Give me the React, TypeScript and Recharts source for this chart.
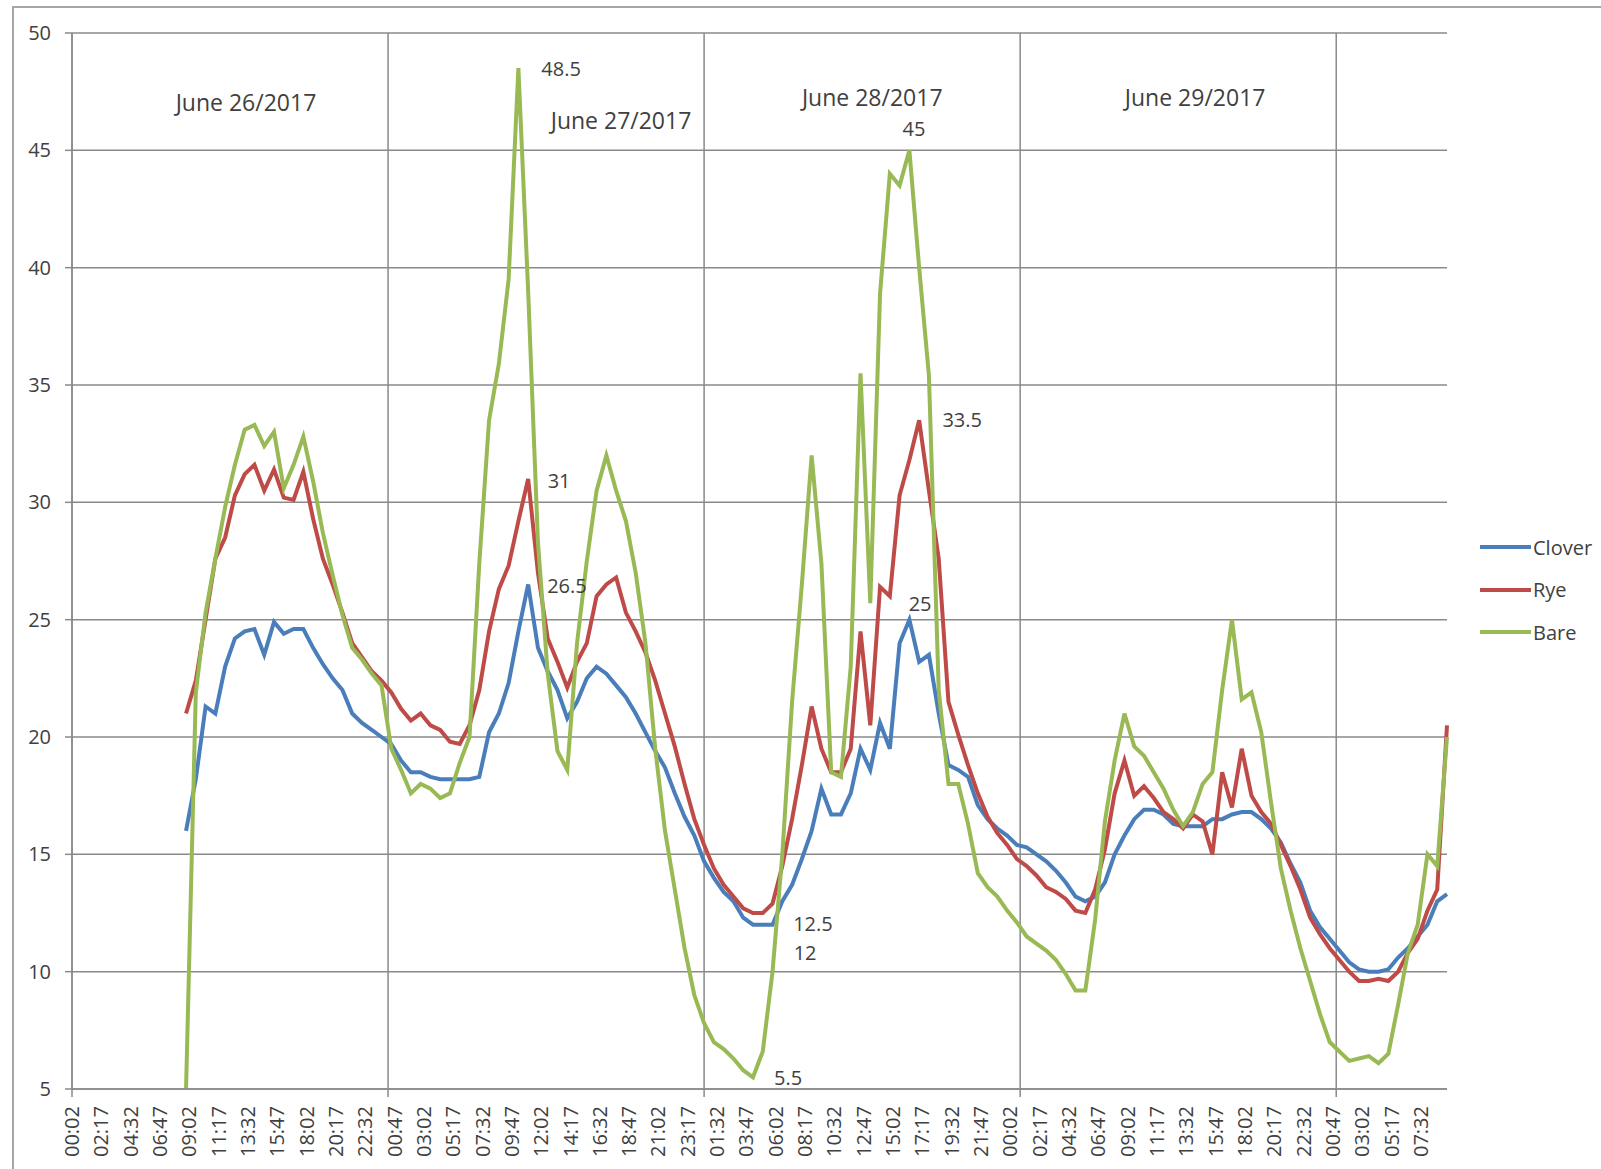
import React from 'react';
import { LineChart, Line, XAxis, YAxis, CartesianGrid, ReferenceLine, ReferenceDot } from 'recharts';

// x axis runs in 15-minute slots counted from 00:02 on June 26; a label every 9 slots
const timeLabels = [
  '00:02', '02:17', '04:32', '06:47', '09:02', '11:17', '13:32', '15:47', '18:02', '20:17', '22:32',
  '00:47', '03:02', '05:17', '07:32', '09:47', '12:02', '14:17', '16:32', '18:47', '21:02', '23:17',
  '01:32', '03:47', '06:02', '08:17', '10:32', '12:47', '15:02', '17:17', '19:32', '21:47',
  '00:02', '02:17', '04:32', '06:47', '09:02', '11:17', '13:32', '15:47', '18:02', '20:17', '22:32',
  '00:47', '03:02', '05:17', '07:32',
];
const labelStep = 9;
const dayLines = [0, 97, 194, 291, 388];
const yTicks = [5, 10, 15, 20, 25, 30, 35, 40, 45, 50];

// readings every 3 slots (45 min), starting at slot 35 (08:47 June 26)
const firstSlot = 35;
const slotStep = 3;

const clover = [
  16, 18.2, 21.3, 21, 23, 24.2, 24.5, 24.6, 23.5, 24.9,
  24.4, 24.6, 24.6, 23.8, 23.1, 22.5, 22, 21, 20.6, 20.3,
  20, 19.7, 19, 18.5, 18.5, 18.3, 18.2, 18.2, 18.2, 18.2,
  18.3, 20.2, 21, 22.3, 24.5, 26.5, 23.8, 22.8, 22, 20.8,
  21.5, 22.5, 23, 22.7, 22.2, 21.7, 21, 20.2, 19.4, 18.7,
  17.6, 16.6, 15.8, 14.7, 14, 13.4, 13, 12.3, 12, 12,
  12, 13, 13.7, 14.8, 16, 17.8, 16.7, 16.7, 17.6, 19.5,
  18.6, 20.6, 19.5, 24, 25, 23.2, 23.5, 21, 18.8, 18.6,
  18.3, 17.1, 16.5, 16.1, 15.8, 15.4, 15.3, 15, 14.7, 14.3,
  13.8, 13.2, 13, 13.2, 13.8, 15, 15.8, 16.5, 16.9, 16.9,
  16.7, 16.3, 16.2, 16.2, 16.2, 16.5, 16.5, 16.7, 16.8, 16.8,
  16.5, 16.1, 15.5, 14.6, 13.8, 12.6, 11.9, 11.4, 10.9, 10.4,
  10.1, 10, 10, 10.1, 10.6, 11, 11.5, 12, 13, 13.3,
];

const rye = [
  21, 22.4, 25, 27.6, 28.5, 30.3, 31.2, 31.6, 30.5, 31.4,
  30.2, 30.1, 31.3, 29.3, 27.6, 26.5, 25.3, 24, 23.4, 22.8,
  22.4, 21.9, 21.2, 20.7, 21, 20.5, 20.3, 19.8, 19.7, 20.5,
  22, 24.5, 26.3, 27.3, 29.2, 31, 27, 24.2, 23.2, 22.1,
  23.2, 24, 26, 26.5, 26.8, 25.3, 24.5, 23.6, 22.4, 21,
  19.6, 18, 16.5, 15.4, 14.4, 13.7, 13.2, 12.7, 12.5, 12.5,
  12.9, 14.5, 16.5, 18.8, 21.3, 19.5, 18.5, 18.5, 19.5, 24.5,
  20.5, 26.4, 26, 30.3, 31.8, 33.5, 30.5, 27.6, 21.5, 20.1,
  18.8, 17.6, 16.6, 15.9, 15.4, 14.8, 14.5, 14.1, 13.6, 13.4,
  13.1, 12.6, 12.5, 13.5, 15.2, 17.6, 19, 17.5, 17.9, 17.4,
  16.8, 16.5, 16.1, 16.7, 16.4, 15, 18.5, 17, 19.5, 17.5,
  16.8, 16.3, 15.4, 14.5, 13.5, 12.3, 11.6, 11, 10.5, 10,
  9.6, 9.6, 9.7, 9.6, 10, 10.8, 11.4, 12.6, 13.5, 20.5,
];

const bare = [
  5, 21.9, 25.3, 27.6, 29.8, 31.6, 33.1, 33.3, 32.4, 33,
  30.6, 31.6, 32.8, 30.9, 28.7, 26.9, 25.2, 23.8, 23.3, 22.7,
  22.2, 19.5, 18.6, 17.6, 18, 17.8, 17.4, 17.6, 18.9, 20,
  27.4, 33.5, 35.9, 39.5, 48.5, 39, 28.3, 22.7, 19.4, 18.6,
  24, 27.5, 30.5, 32, 30.5, 29.2, 27, 24, 19.5, 16,
  13.5, 11, 9, 7.8, 7, 6.7, 6.3, 5.8, 5.5, 6.6,
  10, 15, 21.5, 26.5, 32, 27.4, 18.5, 18.3, 23, 35.5,
  25.7, 38.9, 44, 43.5, 45, 40, 35.4, 22, 18, 18,
  16.3, 14.2, 13.6, 13.2, 12.6, 12.1, 11.5, 11.2, 10.9, 10.5,
  9.9, 9.2, 9.2, 12.2, 16.4, 19, 21, 19.6, 19.2, 18.5,
  17.8, 16.9, 16.2, 16.8, 18, 18.5, 22, 25, 21.6, 21.9,
  20.2, 17.2, 14.4, 12.6, 11, 9.6, 8.2, 7, 6.6, 6.2,
  6.3, 6.4, 6.1, 6.5, 8.6, 10.8, 12, 15, 14.5, 20,
];

// text notes placed in data units (slot, value)
const notes = [
  { t: 53.4, v: 47.06, text: 'June 26/2017', big: true },
  { t: 168.5, v: 46.29, text: 'June 27/2017', big: true },
  { t: 245.6, v: 47.27, text: 'June 28/2017', big: true },
  { t: 344.7, v: 47.27, text: 'June 29/2017', big: true },
  { t: 150.1, v: 48.47, text: '48.5' },
  { t: 258.4, v: 45.91, text: '45' },
  { t: 149.5, v: 30.95, text: '31' },
  { t: 151.9, v: 26.44, text: '26.5' },
  { t: 273.2, v: 33.51, text: '33.5' },
  { t: 260.3, v: 25.71, text: '25' },
  { t: 227.4, v: 12.04, text: '12.5' },
  { t: 225.0, v: 10.8, text: '12' },
  { t: 219.8, v: 5.48, text: '5.5' },
];

const series = [
  { key: 'clover', name: 'Clover', color: '#4A7EBB' },
  { key: 'rye', name: 'Rye', color: '#BE4B48' },
  { key: 'bare', name: 'Bare', color: '#98B954' },
];

const data = clover.map((c, i) => ({
  t: firstSlot + i * slotStep,
  clover: c,
  rye: rye[i],
  bare: bare[i],
}));

const FONT = '"Open Sans", "Liberation Sans", sans-serif';
const TEXT = '#404040';
const GRID = '#8a8a8a';

const TimeTick = (props: any) => {
  const { x, y, payload } = props;
  const label = timeLabels[Math.round(payload.value / labelStep)];
  return (
    <text
      x={x}
      y={y}
      transform={`rotate(-90, ${x}, ${y})`}
      textAnchor="end"
      dy="0.35em"
      fontSize={20}
      fill={TEXT}
      fontFamily={FONT}
    >
      {label}
    </text>
  );
};

const App: React.FC = () => {
  return (
    <div style={{ position: 'absolute', left: 0, top: 0, width: 1601, height: 1169, overflow: 'hidden', background: '#fff' }}>
      <div
        style={{
          position: 'absolute', left: 12, top: 6, width: 1700, height: 1300,
          borderLeft: '2px solid #a6a6a6', borderTop: '2px solid #a6a6a6',
        }}
      />
      <LineChart
        width={1601}
        height={1169}
        data={data}
        margin={{ top: 33, right: 154, left: 0, bottom: 0 }}
        style={{ position: 'absolute', left: 0, top: 0 }}
      >
        <CartesianGrid vertical={false} stroke={GRID} strokeWidth={1.5} />
        <XAxis
          dataKey="t"
          type="number"
          domain={[0, 422]}
          ticks={timeLabels.map((_, i) => i * labelStep)}
          interval={0}
          height={80}
          tickLine={false}
          tickSize={0}
          tickMargin={17}
          axisLine={{ stroke: GRID, strokeWidth: 1.5 }}
          tick={<TimeTick />}
        />
        <YAxis
          type="number"
          domain={[5, 50]}
          ticks={yTicks}
          interval={0}
          width={72}
          tickSize={7}
          tickMargin={14}
          tickLine={{ stroke: GRID, strokeWidth: 1.5 }}
          axisLine={{ stroke: GRID, strokeWidth: 1.5 }}
          tick={{ fontSize: 20, fill: TEXT, fontFamily: FONT }}
        />
        {dayLines.map((d) => (
          <ReferenceLine
            key={`day-${d}`}
            segment={[{ x: d, y: 4.66 }, { x: d, y: 50 }]}
            stroke={GRID}
            strokeWidth={1.5}
            ifOverflow="visible"
          />
        ))}
        {series.map((s) => (
          <Line
            key={s.key}
            type="linear"
            dataKey={s.key}
            name={s.name}
            stroke={s.color}
            strokeWidth={4}
            dot={false}
            activeDot={false}
            isAnimationActive={false}
          />
        ))}
        {notes.map((n) => (
          <ReferenceDot
            key={n.text}
            x={n.t}
            y={n.v}
            r={0}
            ifOverflow="visible"
            shape={(p: any) => (
              <text
                x={p.cx}
                y={p.cy}
                textAnchor="middle"
                dominantBaseline="central"
                fontSize={n.big ? 23 : 20}
                fill={TEXT}
                fontFamily={FONT}
              >
                {n.text}
              </text>
            )}
          />
        ))}
      </LineChart>
      {series.map((s, i) => (
        <div
          key={s.key}
          style={{ position: 'absolute', left: 1480, top: 547 + i * 42.5 - 14, height: 28, display: 'flex', alignItems: 'center' }}
        >
          <div style={{ width: 51, height: 4, background: s.color }} />
          <span style={{ marginLeft: 2, fontSize: 20, color: TEXT, fontFamily: FONT }}>{s.name}</span>
        </div>
      ))}
    </div>
  );
};

export default App;
